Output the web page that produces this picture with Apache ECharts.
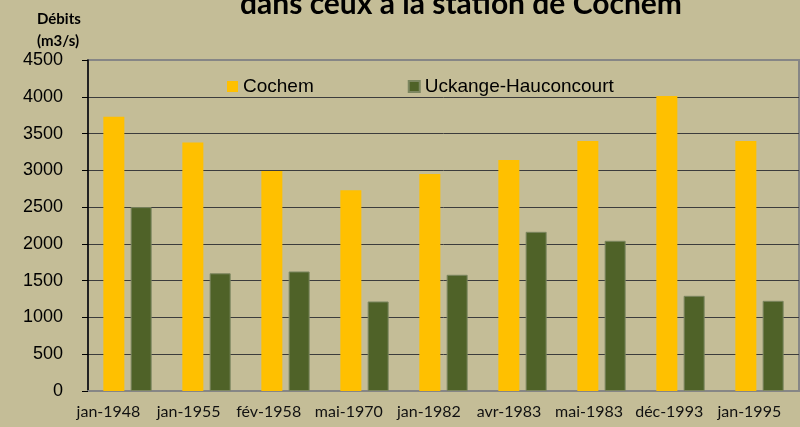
<!DOCTYPE html>
<html>
<head>
<meta charset="utf-8">
<script src="https://cdn.jsdelivr.net/npm/echarts@6/dist/echarts.min.js"></script>
<style>
  html, body { margin: 0; padding: 0; background: #c4bd97; }
  #chart { width: 800px; height: 427px; }
</style>
</head>
<body>
<div id="chart"></div>
<script>
// dates des crues
const categories = ['jan-1948', 'jan-1955', 'fév-1958', 'mai-1970', 'jan-1982', 'avr-1983', 'mai-1983', 'déc-1993', 'jan-1995']
// débits (m3/s)
const cochem = [3730, 3380, 2990, 2730, 2950, 3140, 3400, 4010, 3400]
const uckange = [2500, 1600, 1625, 1217, 1580, 2164, 2042, 1294, 1226]
const yTicks = [0, 500, 1000, 1500, 2000, 2500, 3000, 3500, 4000, 4500]

const chart = echarts.init(document.getElementById('chart'))

// la ligne du haut (4500) se confond avec le cadre gris
const gridColors = yTicks.map((v, i) => i === yTicks.length - 1 ? '#868686' : '#3c3c3c')

// les étiquettes de l'axe X sont un peu décalées vers la gauche (comme dans Excel)
const xData = categories.map((c, i) => {
  const shift = 19 - i * 1.1
  return { value: c, textStyle: { padding: [0, shift * 2, 0, 0] } }
})

const option = {
  backgroundColor: '#c4bd97',
  animation: false,
  graphic: [
    {
      type: 'text',
      left: 240,
      top: -11,
      style: {
        text: 'dans ceux à la station de Cochem',
        font: 'bold 30px Lato',
        fill: '#000'
      }
    },
    {
      type: 'text',
      left: 37,
      top: 8,
      style: {
        text: 'Débits\n(m3/s)',
        font: 'bold 15px Lato',
        lineHeight: 22,
        align: 'center',
        fill: '#000'
      }
    }
  ],
  legend: {
    left: 227,
    top: 77,
    padding: 0,
    itemWidth: 11,
    itemHeight: 11,
    itemGap: 94,
    icon: 'rect',
    textStyle: { fontFamily: 'Liberation Sans', fontSize: 19, color: '#000' },
    data: ['Cochem', 'Uckange-Hauconcourt']
  },
  grid: {
    left: 88,
    right: 1,
    top: 60,
    bottom: 36,
    show: true,
    borderColor: '#868686',
    borderWidth: 2
  },
  xAxis: {
    type: 'category',
    data: xData,
    axisLine: { lineStyle: { color: '#868686', width: 2 } },
    axisTick: { show: false },
    axisLabel: { interval: 0, fontFamily: 'Lato', fontSize: 16, color: '#111', margin: 13 }
  },
  yAxis: {
    type: 'value',
    min: 0,
    max: 4500,
    interval: 500,
    axisLine: { show: true, lineStyle: { color: '#000', width: 1.5 } },
    axisTick: { show: true, length: 6, lineStyle: { color: '#000' } },
    axisLabel: {
      fontFamily: 'Liberation Sans',
      fontSize: 18,
      color: '#000',
      margin: 25,
      formatter: v => String(v)
    },
    splitLine: { lineStyle: { color: gridColors, width: 1 } }
  },
  series: [
    {
      name: 'Cochem',
      type: 'bar',
      data: cochem,
      barWidth: 21,
      barGap: '30%',
      itemStyle: { color: '#ffc000' }
    },
    {
      name: 'Uckange-Hauconcourt',
      type: 'bar',
      data: uckange,
      barWidth: 21,
      itemStyle: { color: '#4f6228', borderColor: '#7c8660', borderWidth: 1 }
    }
  ]
}

chart.setOption(option)
</script>
</body>
</html>
